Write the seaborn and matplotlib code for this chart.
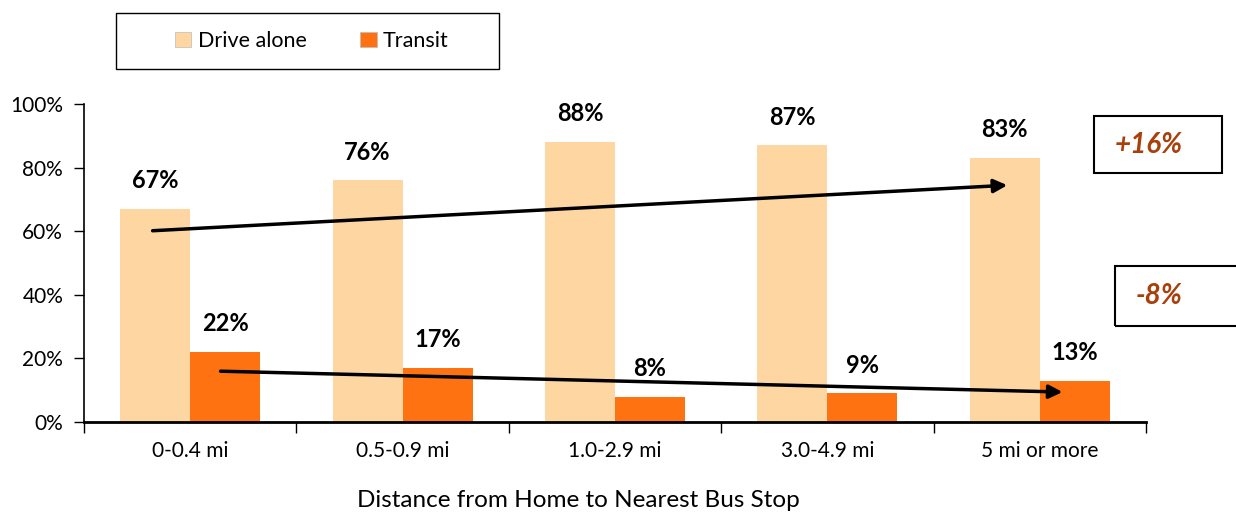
import matplotlib
matplotlib.use("Agg")
import matplotlib.pyplot as plt
from matplotlib.patches import Rectangle, Patch
from matplotlib.ticker import FixedLocator, FuncFormatter
import seaborn as sns
import pandas as pd

categories = ["0-0.4 mi", "0.5-0.9 mi", "1.0-2.9 mi", "3.0-4.9 mi", "5 mi or more"]
drive_alone = [67, 76, 88, 87, 83]
transit = [22, 17, 8, 9, 13]
series = ["Drive alone", "Transit"]
colors = ["#FDD6A1", "#FF7212"]
yticks = [0, 20, 40, 60, 80, 100]

df = pd.DataFrame({
    "Distance": categories * 2,
    "Mode": [series[0]] * 5 + [series[1]] * 5,
    "Share": drive_alone + transit,
})

sns.set_theme(style="white")
plt.rcParams["font.family"] = ["Lato", "DejaVu Sans"]
plt.rcParams["text.color"] = "black"
plt.rcParams["xtick.color"] = "black"
plt.rcParams["ytick.color"] = "black"
plt.rcParams["axes.labelcolor"] = "black"

fig = plt.figure(figsize=(12.36, 5.12), dpi=100)
ax = fig.add_axes([84 / 1236, 1 - 422 / 512, (1146 - 84) / 1236, (422 - 104) / 512])

sns.barplot(data=df, x="Distance", y="Share", hue="Mode", palette=colors,
            order=categories, hue_order=series, width=0.66, gap=0, saturation=1,
            edgecolor="none", linewidth=0, ax=ax, legend=False)

ax.set_xlim(-0.5, 4.5)
ax.set_ylim(0, 100)
ax.set_yticks(yticks)
ax.yaxis.set_major_formatter(FuncFormatter(lambda v, p: f"{int(v)}%"))
ax.tick_params(axis="y", labelsize=15, length=7, width=1, direction="out", left=True, pad=8)
ax.tick_params(axis="x", labelsize=15, length=0, pad=14)
ax.xaxis.set_minor_locator(FixedLocator([-0.5, 0.5, 1.5, 2.5, 3.5, 4.5]))
ax.tick_params(axis="x", which="minor", length=8, width=1, direction="out", bottom=True)
for s in ["top", "right"]:
    ax.spines[s].set_visible(False)
ax.spines["left"].set_linewidth(1.2)
ax.spines["left"].set_color("black")
ax.spines["bottom"].set_linewidth(2)
ax.spines["bottom"].set_color("black")
ax.set_ylabel("")
ax.set_xlabel("Distance from Home to Nearest Bus Stop", fontsize=17.5)
ax.xaxis.set_label_coords((578 - 84) / 1062, (422 - 490) / 318)

for cont in ax.containers:
    ax.bar_label(cont, labels=[f"{int(v)}%" for v in cont.datavalues],
                 padding=12, fontsize=17, fontweight="bold")

# trend arrows
ax.annotate("", xy=(3.86, 74.5), xytext=(-0.19, 60.1),
            arrowprops=dict(arrowstyle="-|>", color="black", lw=2.5, mutation_scale=20))
ax.annotate("", xy=(4.12, 9.4), xytext=(0.13, 16.0),
            arrowprops=dict(arrowstyle="-|>", color="black", lw=2.5, mutation_scale=20))

# annotation boxes
fig.patches.append(Rectangle((1094 / 1236, 1 - 173 / 512), 128 / 1236, 57 / 512,
                             transform=fig.transFigure, fill=False, edgecolor="black", lw=1.5))
fig.text(1149 / 1236, 1 - 145 / 512, "+16%", fontsize=20, fontweight="bold", style="italic",
         color="#A8400C", ha="center", va="center")
fig.patches.append(Rectangle((1115 / 1236, 1 - 326 / 512), 130 / 1236, 60 / 512,
                             transform=fig.transFigure, fill=False, edgecolor="black", lw=1.5))
fig.text(1159 / 1236, 1 - 296 / 512, "-8%", fontsize=20, fontweight="bold", style="italic",
         color="#A8400C", ha="center", va="center")

# legend box
fig.patches.append(Rectangle((116 / 1236, 1 - 69 / 512), 383 / 1236, 56 / 512,
                             transform=fig.transFigure, fill=False, edgecolor="black", lw=1))
handles = [Patch(facecolor=c, edgecolor="#bbbbbb", lw=0.5) for c in colors]
fig.legend(handles, series, loc="center", bbox_to_anchor=(312 / 1236, 1 - 41 / 512),
           ncol=2, frameon=False, fontsize=15.5, handlelength=0.75, handleheight=0.75,
           handletextpad=0.3, columnspacing=2.5)

fig.savefig("out.png", dpi=100)
